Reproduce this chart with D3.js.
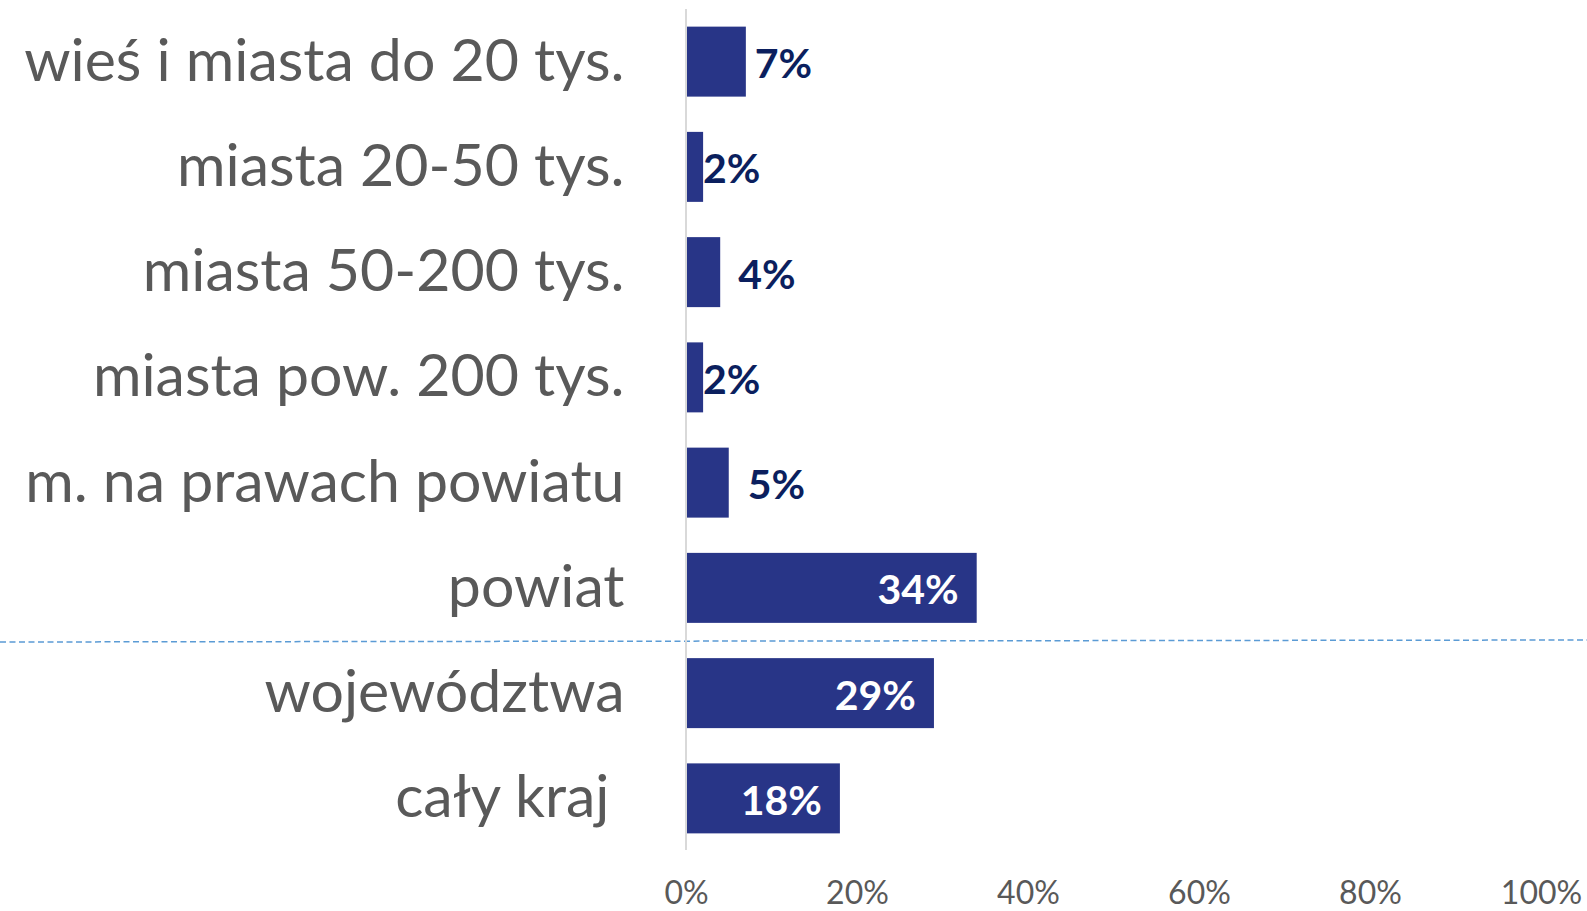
<!DOCTYPE html>
<html lang="pl">
<head>
<meta charset="utf-8">
<script src="https://cdn.jsdelivr.net/npm/d3@7/dist/d3.min.js"></script>
<style>
  html, body { margin: 0; padding: 0; background: #ffffff; }
  svg { display: block; }
</style>
</head>
<body>
<svg id="chart" width="1587" height="911"></svg>
<script>
// Categories, top to bottom
const categories = [
  "wieś i miasta do 20 tys.",
  "miasta 20-50 tys.",
  "miasta 50-200 tys.",
  "miasta pow. 200 tys.",
  "m. na prawach powiatu",
  "powiat",
  "województwa",
  "cały kraj "
];

// Share of respondents (%)
const values = [7, 2, 4, 2, 5, 34, 29, 18];

// Value-axis ticks (%)
const tickValues = [0, 20, 40, 60, 80, 100];

// ---- layout ----
const W = 1587, H = 911;
const axisX0 = 686, axisX1 = 1541;
const plotTop = 9, plotBottom = 851;
const barColor = "#283587";
const labelDark = "#0b1f5e";
const textGray = "#595959";
const font = "Lato, 'Open Sans', 'DejaVu Sans', sans-serif";
// gap between a short bar's end and its outside label (px)
const outsideGap = [9, 0, 18, 0, 19];

const svg = d3.select("#chart");

const x = d3.scaleLinear().domain([0, 100]).range([axisX0, axisX1]);
const y = d3.scaleBand()
  .domain(categories)
  .range([plotTop, plotBottom])
  .paddingInner(0.335)
  .paddingOuter(0.335 / 2);

// separator between local and regional/national groups
const sepY = y(categories[6]) - y.step() * y.paddingInner() / 2;
svg.append("line")
  .attr("x1", 0).attr("y1", sepY + 1.5)
  .attr("x2", W).attr("y2", sepY - 0.5)
  .attr("stroke", "#5b9bd5")
  .attr("stroke-width", 1.5)
  .attr("stroke-dasharray", "6,3.5");

// bars
svg.append("g").selectAll("rect")
  .data(values)
  .join("rect")
  .attr("x", x(0))
  .attr("y", (d, i) => y(categories[i]))
  .attr("width", d => x(d) - x(0))
  .attr("height", y.bandwidth())
  .attr("fill", barColor);

// vertical category axis line
svg.append("line")
  .attr("x1", x(0)).attr("x2", x(0))
  .attr("y1", plotTop).attr("y2", plotBottom - 1)
  .attr("stroke", "#d9d9d9")
  .attr("stroke-width", 2);

// category labels
svg.append("g").selectAll("text")
  .data(categories)
  .join("text")
  .attr("x", 624.5)
  .attr("y", d => y(d) + y.bandwidth() / 2 + 19)
  .attr("text-anchor", "end")
  .style("white-space", "pre")
  .attr("font-family", font)
  .attr("font-size", 59)
  .attr("fill", textGray)
  .text(d => d);

// value labels: outside end for short bars, inside end for long ones
const insideThreshold = 10;
svg.append("g").selectAll("text")
  .data(values)
  .join("text")
  .attr("x", (d, i) => d >= insideThreshold ? x(d) - 18 : x(d) + (outsideGap[i] || 0))
  .attr("y", (d, i) => y(categories[i]) + y.bandwidth() / 2 + 16.5)
  .attr("text-anchor", d => d >= insideThreshold ? "end" : "start")
  .attr("font-family", font)
  .attr("font-weight", 700)
  .attr("font-size", 41)
  .attr("fill", d => d >= insideThreshold ? "#ffffff" : labelDark)
  .text(d => d + "%");

// value axis tick labels
const xAxis = d3.axisBottom(x)
  .tickValues(tickValues)
  .tickSize(0)
  .tickPadding(0)
  .tickFormat(d => d + "%");

const gx = svg.append("g")
  .attr("transform", "translate(0,904)")
  .call(xAxis);
gx.select(".domain").remove();
gx.selectAll("text")
  .attr("y", 0)
  .attr("dy", 0)
  .attr("font-family", font)
  .attr("font-size", 32)
  .attr("fill", textGray);
</script>
</body>
</html>
